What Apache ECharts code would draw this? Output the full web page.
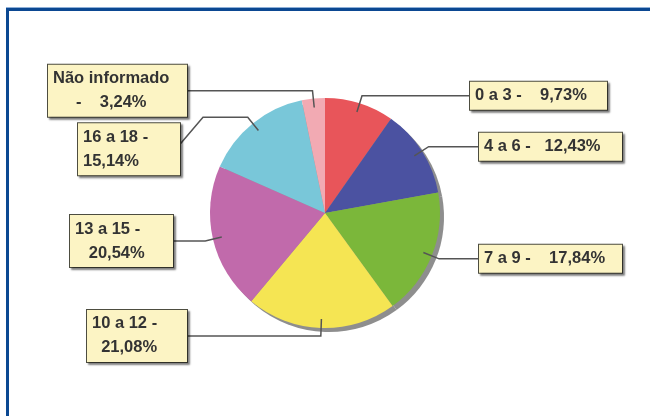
<!DOCTYPE html>
<html><head><meta charset="utf-8">
<script src="https://cdn.jsdelivr.net/npm/echarts@6/dist/echarts.min.js"></script>
<style>
html,body{margin:0;padding:0;background:#fff;}
#chart{width:650px;height:416px;position:absolute;left:0;top:0;}
#frame{position:absolute;left:6px;top:8px;width:700px;height:460px;border-left:3px solid #0b4892;border-top:3px solid #0b4892;box-sizing:border-box;pointer-events:none;}
#frame2{position:absolute;left:6px;top:7px;width:700px;height:1px;background:#8fb0d8;pointer-events:none;}
</style></head><body>
<div id="chart"></div><div id="frame2"></div><div id="frame"></div>
<script>
// ---- data ----
const categories = ['0 a 3', '4 a 6', '7 a 9', '10 a 12', '13 a 15', '16 a 18', 'Não informado'];
const values = [9.73, 12.43, 17.84, 21.08, 20.54, 15.14, 3.24];
const colors = ['#e8555a', '#4b52a1', '#7bb73a', '#f5e553', '#c16aab', '#79c7d9', '#f2aab3'];
const separators = [' -    ', ' -   ', ' -    ', ' -\n  ', ' -\n   ', ' -\n', '\n     -    '];

// ---- label box layout (style) ----
const labelEdgeX = [470, 479, 479, 187, 173, 180, 187]; // box edge facing the pie
const labelBoxW = [137, 143, 143, 100, 103, 102, 139];
const labelDrop = [0, 0, 0, 0, 0, 32, 0];

const CX = 325, CY = 213, R = 115;

function fmt(v) { return v.toFixed(2).replace('.', ',') + '%'; }

const chart = echarts.init(document.getElementById('chart'), null, {renderer: 'canvas'});

const labelData = categories.map((c, i) => ({
  name: c, value: values[i],
  label: { width: labelBoxW[i] - 10 }
}));

chart.setOption({
  animation: false,
  backgroundColor: '#ffffff',
  series: [
    { // drop shadow of the pie
      type: 'pie', center: [CX + 4, CY + 4], radius: R, startAngle: 90, z: 1,
      silent: true, label: {show: false}, labelLine: {show: false},
      itemStyle: {color: '#8e8e8e'},
      data: categories.map((c, i) => ({name: c, value: values[i]}))
    },
    {
      type: 'pie', center: [CX, CY], radius: R, startAngle: 90, z: 2,
      silent: true, label: {show: false}, labelLine: {show: false},
      itemStyle: {borderWidth: 0},
      data: categories.map((c, i) => ({name: c, value: values[i], itemStyle: {color: colors[i]}}))
    },
    { // labels, anchored inside the slices
      type: 'pie', center: [CX, CY], radius: 106, startAngle: 90, z: 5,
      silent: true, avoidLabelOverlap: false,
      itemStyle: {color: 'rgba(0,0,0,0)'},
      label: {
        show: true, position: 'outside',
        formatter: p => p.name + separators[p.dataIndex] + fmt(p.value),
        fontFamily: 'Liberation Sans, Arial, sans-serif', fontSize: 16.5, fontWeight: 'bold',
        color: '#333333', lineHeight: 24, align: 'left', overflow: 'none',
        backgroundColor: '#fcf4c4', borderColor: '#4d4d40', borderWidth: 1,
        padding: [2, 5],
        shadowColor: 'rgba(0,0,0,0.4)', shadowBlur: 2, shadowOffsetX: 2, shadowOffsetY: 2
      },
      labelLine: {show: true, length: 17, length2: 10, smooth: false,
        lineStyle: {color: '#555555', width: 1.5}},
      labelLayout: function (p) {
        const i = p.dataIndex;
        let a, e;
        if (p.labelLinePoints && p.labelLinePoints.length >= 2) {
          a = p.labelLinePoints[0]; e = p.labelLinePoints[1];
        } else {
          let s = 0; for (let k = 0; k < i; k++) s += values[k];
          const tot = values.reduce((x, y) => x + y, 0);
          const ang = (s + values[i] / 2) / tot * Math.PI * 2;
          const dx = Math.sin(ang), dy = -Math.cos(ang);
          a = [CX + 106 * dx, CY + 106 * dy]; e = [CX + 123 * dx, CY + 123 * dy];
        }
        const edge = labelEdgeX[i];
        const right = edge > e[0];
        const w = labelBoxW[i];
        const drop = labelDrop[i];
        const x = right ? edge : edge - w;
        const y = e[1] + drop;
        let line;
        if (drop) line = [a, e, [edge + 23, e[1]], [edge, e[1] + 27]];
        else line = [a, e, [edge, e[1]]];
        return {x: x, y: y, align: 'left', verticalAlign: 'middle', labelLinePoints: line};
      },
      data: labelData
    }
  ]
});
</script>
</body></html>
